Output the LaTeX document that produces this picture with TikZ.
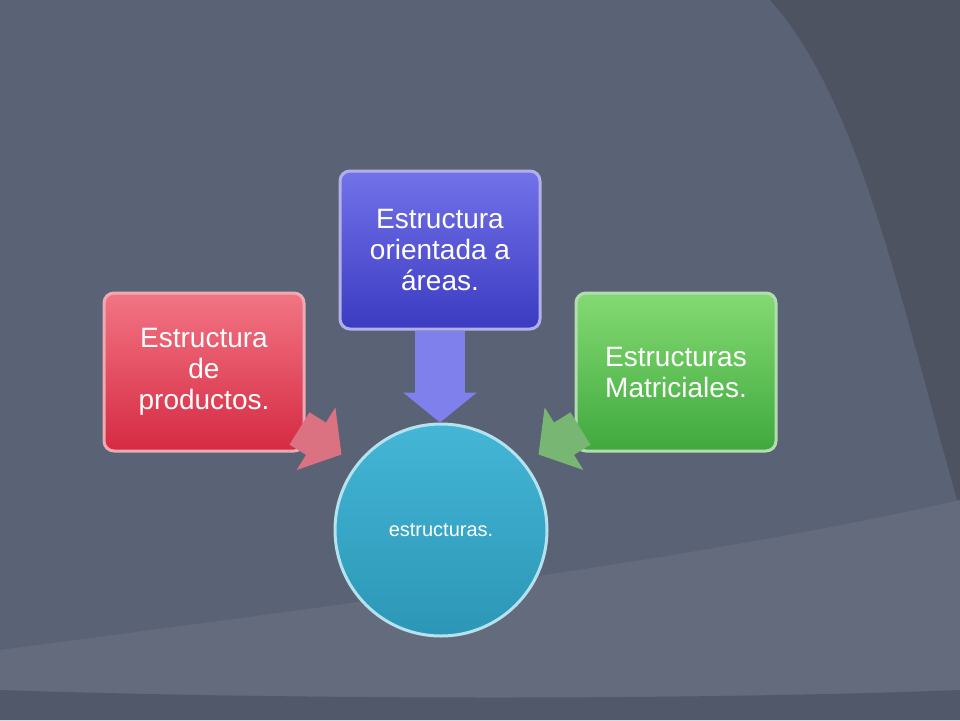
\documentclass[tikz,border=0pt]{standalone}
\usepackage{fontspec}
\setmainfont{Liberation Sans}
\usetikzlibrary{arrows.meta,positioning}
\definecolor{bgslate}{HTML}{5A6275}
\definecolor{bgdark}{HTML}{4D5361}
\definecolor{bglight}{HTML}{646B7D}
\definecolor{redtop}{HTML}{F27584}
\definecolor{redbot}{HTML}{D52A42}
\definecolor{bluetop}{HTML}{7272EA}
\definecolor{bluebot}{HTML}{3B3BC2}
\definecolor{greentop}{HTML}{84DA72}
\definecolor{greenbot}{HTML}{3FA93E}
\definecolor{hubtop}{HTML}{44B6D6}
\definecolor{hubbot}{HTML}{2C96B6}
\tikzset{
    card/.style={
           rectangle, rounded corners=10pt,
           minimum width=200pt, minimum height=158pt,
           draw=white!60!#1, line width=3pt,
           text=white, align=center, inner sep=4pt,
           font=\fontsize{28}{31}\selectfont,
           },
    link/.style={
           draw=#1, line width=50pt,
           -{Triangle[length=30pt,width=72pt]},
           },
}
\begin{document}
\begin{tikzpicture}[x=1pt,y=-1pt]
\fill[bgslate] (0,0) rectangle (960,720);
% darker swoosh top right
\fill[bgdark] (770,0) -- (960,0) -- (960,510) .. controls (900,300) and (860,100) .. (770,0);
% lighter band at bottom
\fill[bglight] (0,720) -- (0,650) .. controls (300,610) and (700,560) .. (960,500) -- (960,720) -- cycle;
\fill[bgslate!90!black] (0,690) .. controls (300,700) and (700,700) .. (960,690) -- (960,720) -- (0,720) -- cycle;
% nodes
\node[card=redbot, top color=redtop, bottom color=redbot] (prod) at (204,372)
      {Estructura\\de\\productos.};
\node[card=bluebot, top color=bluetop, bottom color=bluebot] (area) at (440,250)
      {Estructura\\orientada a\\áreas.};
\node[card=greenbot, top color=greentop, bottom color=greenbot] (matr) at (676,372)
      {Estructuras\\Matriciales.};
% connectors
\path[link=bluetop!90!white] (area.south) -- ++(0,92);
\path[link=redtop!85!bgslate, line width=38pt] (prod.south east) ++(-6,-24) -- ++(42,26);
\path[link=greentop!70!bgslate, line width=38pt] (matr.south west) ++(6,-24) -- ++(-42,26);
\node[circle, minimum size=212pt, draw=hubtop!40!white, line width=3pt,
      top color=hubtop, bottom color=hubbot, text=white,
      font=\fontsize{20}{24}\selectfont] (hub) at (441,530) {estructuras.};
\end{tikzpicture}
\end{document}
